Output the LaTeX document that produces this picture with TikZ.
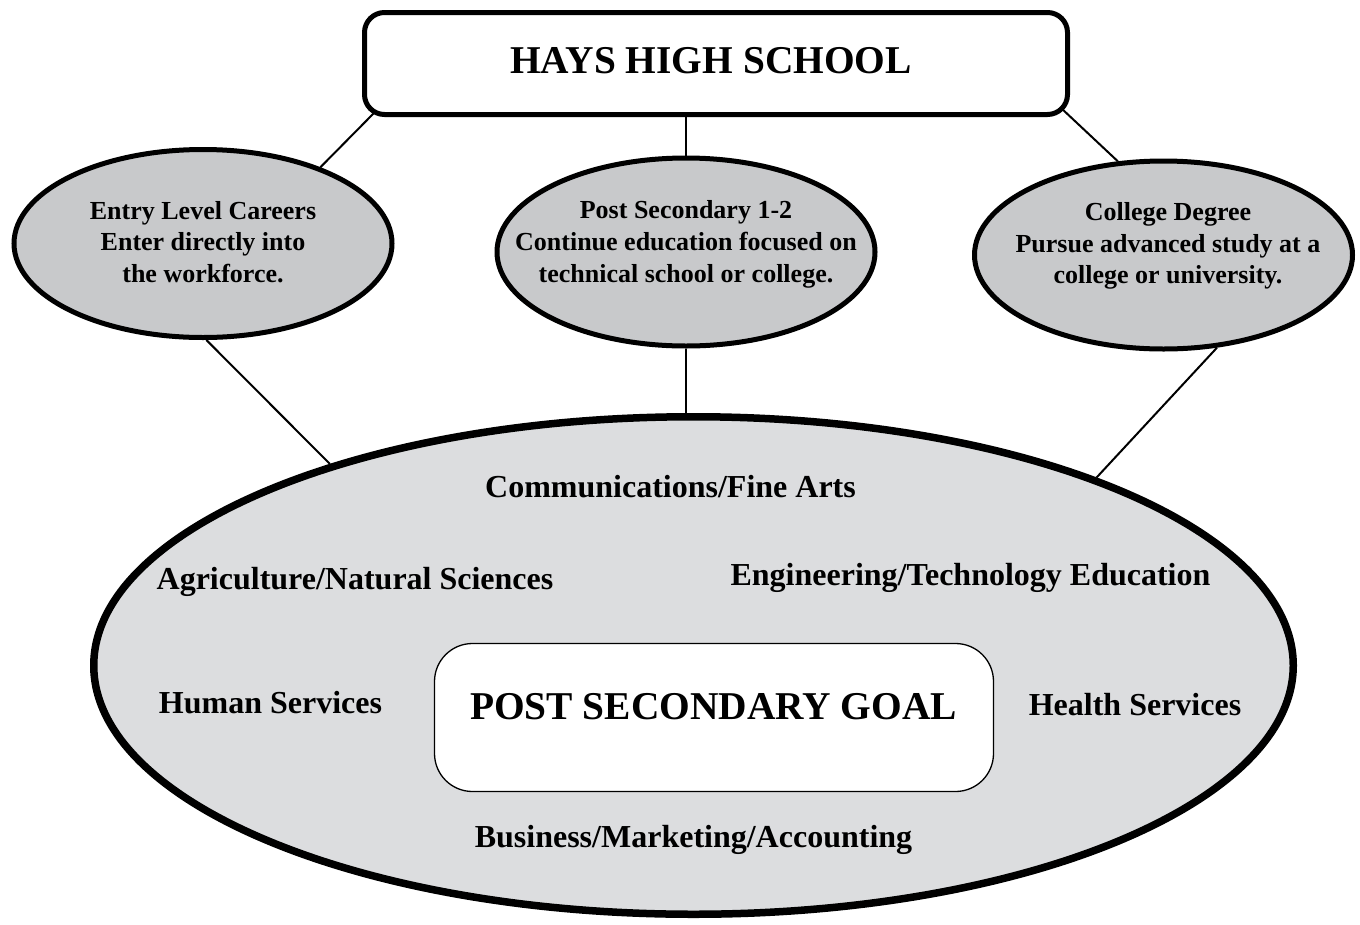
\documentclass[tikz,border=0pt]{standalone}
\usepackage{fontspec}
\setmainfont{Liberation Serif}
\usetikzlibrary{shapes.geometric,calc,backgrounds}
\definecolor{smallgray}{RGB}{200,201,203}
\definecolor{biggray}{RGB}{220,221,223}
\begin{document}
\begin{tikzpicture}[x=1pt,y=-1pt,
  topbox/.style={draw, line width=5pt, rounded corners=20pt, fill=white, minimum width=703pt, minimum height=102pt, inner sep=0pt},
  pathell/.style={ellipse, draw, line width=5pt, fill=smallgray, minimum width=378pt, minimum height=188pt, inner sep=0pt},
  bigell/.style={ellipse, draw, line width=7.5pt, fill=biggray, minimum width=1199.5pt, minimum height=497.5pt, inner sep=0pt},
  goalbox/.style={draw, line width=1.3pt, rounded corners=38pt, fill=white, minimum width=559pt, minimum height=148pt, inner sep=0pt},
  elltext/.style={align=center, font=\bfseries\fontsize{26}{31.7}\selectfont, inner sep=0pt},
  field/.style={anchor=base, font=\bfseries\fontsize{32}{38}\selectfont, inner sep=0pt},
  title/.style={anchor=base, font=\bfseries\fontsize{39.4}{46}\selectfont, inner sep=0pt},
  link/.style={line width=2pt}
]
\useasboundingbox (0,0) rectangle (1360,924);

% main shapes
\node[bigell] (big) at (693.5,665.5) {};
\node[goalbox] (goal) at (714,717.5) {};
\node[topbox] (hhs) at (716,63.5) {};
\node[pathell] (ent) at (203,243.5) {};
\node[pathell] (mid) at (686,252) {};
\node[pathell] (col) at (1163.5,255) {};

% texts
\node[title] (hhst) at (711,73) {HAYS HIGH SCHOOL};
\node[title] (goalt) at (713.5,719) {POST SECONDARY GOAL};
\node[elltext] (entt) at (203,242) {Entry Level Careers\\Enter directly into\\the workforce.};
\node[elltext] (midt) at (686,244.4) {Post Secondary 1-2\\Continue education focused on\\technical school or college.};
\node[elltext] (colt) at (1168,246) {College Degree\\Pursue advanced study at a\\college or university.};

\node[field] (f1) at (670.5,497) {Communications/Fine Arts};
\node[field] (f2) at (355,589) {Agriculture/Natural Sciences};
\node[field] (f3) at (970.5,585) {Engineering/Technology Education};
\node[field] (f4) at (270.5,713) {Human Services};
\node[field] (f5) at (1135,715) {Health Services};
\node[field] (f6) at (693.5,847) {Business/Marketing/Accounting};

% connectors
\begin{pgfonlayer}{background}
\draw[link] (ent.33) -- ($(hhs.south west)+(12,-4)$);
\draw[link] (mid.north) -- (mid.north |- hhs.south);
\draw[link] (col.116) -- ($(hhs.south east)+(-9,-9)$);
\draw[link] (ent.-88) -- (big.151);
\draw[link] (mid.south) -- (mid.south |- big.north);
\draw[link] (col.-60) -- (big.25.5);
\end{pgfonlayer}
\end{tikzpicture}
\end{document}
